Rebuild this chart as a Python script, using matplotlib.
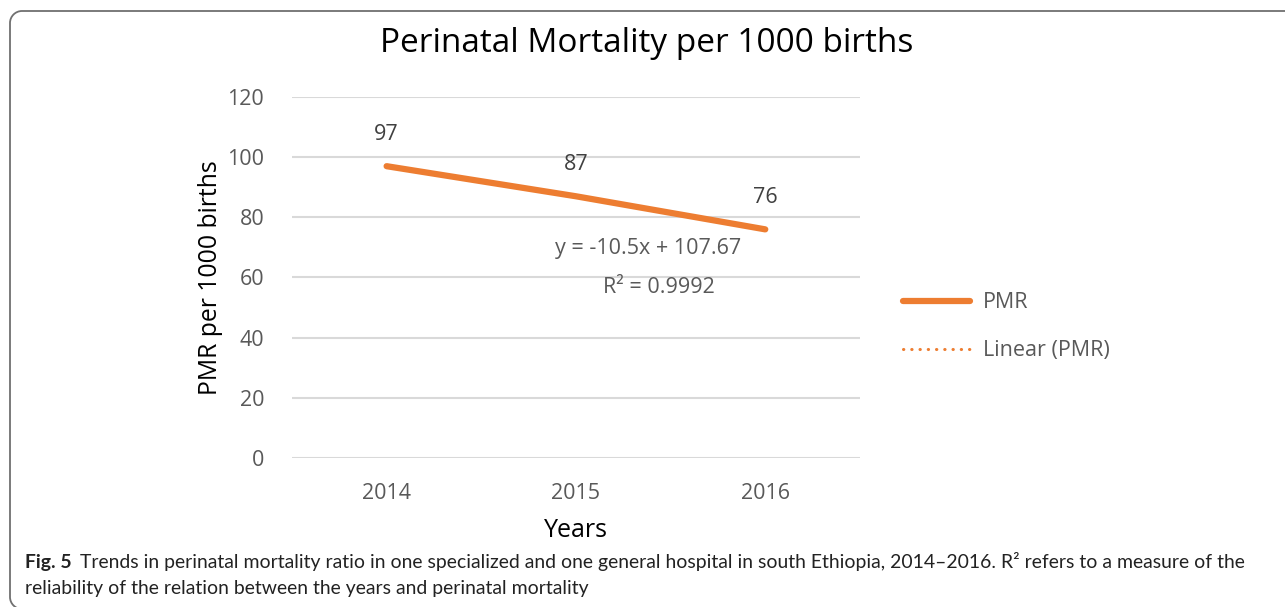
import numpy as np
import matplotlib
matplotlib.use("Agg")
from matplotlib import pyplot as plt
from matplotlib.patches import PathPatch
from matplotlib.path import Path
from matplotlib.transforms import IdentityTransform, offset_copy

# data
years = ["2014", "2015", "2016"]
pmr = [97, 87, 76]
y_ticks = [0, 20, 40, 60, 80, 100, 120]
equation = "y = -10.5x + 107.67"
r_squared = "R² = 0.9992"
caption_bold = "Fig. 5"
caption_line1 = ("Trends in perinatal mortality ratio in one specialized and one general hospital "
                 "in south Ethiopia, 2014\u20132016. R\u00b2 refers to a measure of the")
caption_line2 = "reliability of the relation between the years and perinatal mortality"

ORANGE = "#ED7D31"
GREY_TXT = "#595959"
FONT = "Open Sans"
FS = 15.5

plt.rcParams["font.family"] = [FONT, "DejaVu Sans"]

fig = plt.figure(figsize=(12.85, 6.07), dpi=100)
ax = fig.add_axes([0.2272, 0.2455, 0.4420, 0.5947])

x = np.arange(len(years))
ax.plot(x, pmr, color=ORANGE, lw=4.5, solid_capstyle="round", label="PMR", zorder=3)

# linear trend (excel style, x = 1..n)
coef = np.polyfit(x + 1, pmr, 1)
trend = np.polyval(coef, x + 1)
ax.plot(x, trend, color=ORANGE, lw=2.2, ls=(0, (0.1, 2.6)), dash_capstyle="round",
        label="Linear (PMR)", zorder=2)

for xi, v in zip(x, pmr):
    ax.annotate(str(v), (xi, v), xytext=(0, 23), textcoords="offset points",
                ha="center", va="center", fontsize=FS, color="#404040")

ax.text(1.38, 69.5, equation, ha="center", va="center", fontsize=FS, color=GREY_TXT)
ax.text(1.44, 56.8, r_squared, ha="center", va="center", fontsize=FS, color=GREY_TXT)

ax.set_xlim(-0.5, 2.5)
ax.set_ylim(0, 120)
ax.set_xticks(x)
ax.set_xticklabels(years)
ax.set_yticks(y_ticks)
ax.tick_params(length=0, labelsize=FS, labelcolor=GREY_TXT)
ax.tick_params(axis="x", pad=18)
ax.tick_params(axis="y", pad=20)
ax.grid(axis="y", color="#d9d9d9", lw=1.5)
ax.set_axisbelow(True)
for s in ax.spines.values():
    s.set_visible(False)

ax.set_ylabel("PMR per 1000 births", fontsize=17.8, color="black", labelpad=3)
ax.set_xlabel("Years", fontsize=18, color="black", labelpad=10)
fig.text(0.5035, 0.929, "Perinatal Mortality per 1000 births", ha="center", va="center",
         fontsize=24, color="black")

leg = ax.legend(loc="center left", bbox_to_anchor=(1.042, 0.364), frameon=False,
                fontsize=FS, labelcolor=GREY_TXT, handlelength=3.1, labelspacing=1.25,
                handletextpad=0.6)

# rounded frame, open at right and bottom (cut by the image edge)
W, H = 1285, 607
x0, top, bot, r = 10, H - 11, -2, 12
k = 0.5523 * r
verts = [(W + 5, top), (x0 + r, top),
         (x0 + r - k, top), (x0, top - r + k), (x0, top - r),
         (x0, bot + r),
         (x0, bot + r - k), (x0 + r - k, bot), (x0 + r, bot)]
codes = [Path.MOVETO, Path.LINETO, Path.CURVE4, Path.CURVE4, Path.CURVE4,
         Path.LINETO, Path.CURVE4, Path.CURVE4, Path.CURVE4]
frame = PathPatch(Path(verts, codes), transform=IdentityTransform(), fill=False,
                  ec="#707070", lw=1.3)
fig.patches.append(frame)

# caption
cap_font = "Lato"
CFS = 13.95
cb = fig.text(25 / W, 1 - 568 / H, caption_bold, fontsize=CFS, fontweight="bold",
              family=cap_font, color="#222222", va="baseline")
fig.canvas.draw()
w = cb.get_window_extent().width
tr = offset_copy(fig.transFigure, fig=fig, x=(w + 8) * 72 / fig.dpi, y=0, units="points")
fig.text(25 / W, 1 - 568 / H, caption_line1, fontsize=CFS, family=cap_font,
         color="#222222", va="baseline", transform=tr)
fig.text(25 / W, 1 - 594 / H, caption_line2, fontsize=CFS, family=cap_font,
         color="#222222", va="baseline")

fig.savefig("out.png", dpi=100)
